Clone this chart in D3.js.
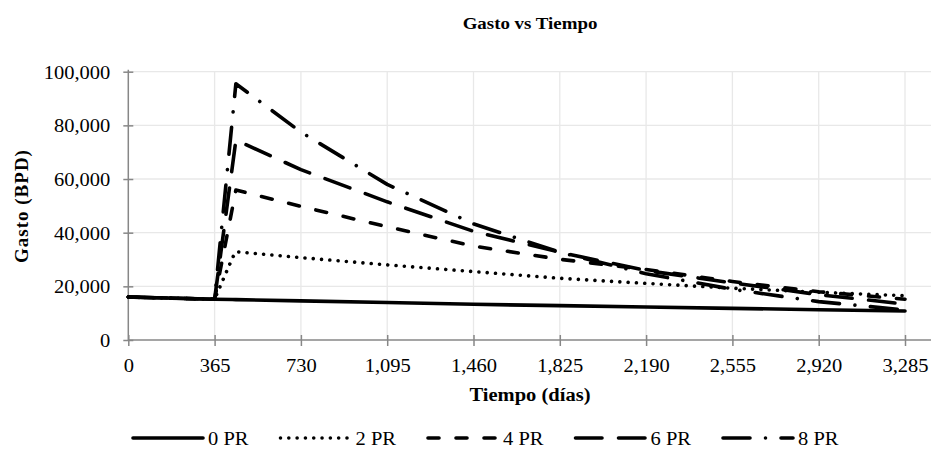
<!DOCTYPE html>
<html>
<head>
<meta charset="utf-8">
<script src="https://cdn.jsdelivr.net/npm/d3@7"></script>
<style>
  html, body { margin: 0; padding: 0; background: #fff; }
  svg { display: block; }
  text { font-family: "Liberation Serif", "Times New Roman", serif; fill: #000; }
</style>
</head>
<body>
<svg id="chart" width="932" height="458"></svg>
<script>
// ---- data ----
const times = [0, 365, 440, 455, 730, 1095, 1460, 1825, 2190, 2555, 2920, 3285];
const pr0 = [16000, 15200, 15100, 15050, 14600, 14000, 13300, 12800, 12300, 11800, 11300, 10800];
const pr2 = [16000, 15200, 30500, 32900, 30700, 28000, 25500, 23000, 21100, 19300, 17800, 16500];
const pr4 = [16000, 15200, 49100, 55900, 49800, 42200, 35000, 30100, 26300, 21800, 18000, 15200];
const pr6 = [16000, 15200, 64600, 74500, 63500, 51500, 40500, 32700, 25900, 21300, 16900, 13400];
const pr8 = [16000, 15200, 82100, 95500, 77500, 58000, 43300, 32700, 24700, 18900, 14300, 11200];
const seriesNames = ["0 PR", "2 PR", "4 PR", "6 PR", "8 PR"];
const xTicks = [0, 365, 730, 1095, 1460, 1825, 2190, 2555, 2920, 3285];
const yTicks = [0, 20000, 40000, 60000, 80000, 100000];
const titleText = "Gasto vs Tiempo";
const xTitle = "Tiempo (días)";
const yTitle = "Gasto (BPD)";

// ---- layout ----
const SX = 1.08; // slight horizontal text stretch seen in the reference
const plotLeft = 128.3, xEnd = 905, plotRight = 931;
const plotTop = 71.7, plotBottom = 340;

const svg = d3.select("#chart");
const x = d3.scaleLinear().domain([0, 3285]).range([plotLeft, xEnd]);
const y = d3.scaleLinear().domain([0, 100000]).range([plotBottom, plotTop]);
const fmt = d3.format(",");

function stretchedText(g, tx, ty, str, opts) {
  return g.append("text")
    .attr("transform", `translate(${tx},${ty}) scale(${opts.sx || 1},1)`)
    .attr("text-anchor", opts.anchor || "middle")
    .attr("font-family", "Liberation Serif, Times New Roman, serif")
    .style("font-size", opts.size + "px")
    .style("font-weight", opts.weight || "normal")
    .text(str);
}

// gridlines
const grid = svg.append("g");
grid.selectAll("line.h").data(yTicks.filter(d => d > 0)).join("line")
  .attr("x1", plotLeft).attr("x2", plotRight)
  .attr("y1", d => y(d)).attr("y2", d => y(d))
  .attr("stroke", "#e8e8e8").attr("stroke-width", 1.3);
grid.selectAll("line.v").data(xTicks.filter(d => d > 0)).join("line")
  .attr("x1", d => x(d)).attr("x2", d => x(d))
  .attr("y1", plotTop).attr("y2", plotBottom)
  .attr("stroke", "#e8e8e8").attr("stroke-width", 1.3);

// axes
const axisColor = "#878787";
const xAxis = svg.append("g").attr("transform", `translate(0,${plotBottom})`)
  .call(d3.axisBottom(x).tickValues(xTicks).tickSize(5).tickFormat(() => ""));
xAxis.select(".domain").remove();
xAxis.selectAll(".tick line").attr("y1", -5).attr("y2", 6).attr("stroke", axisColor).attr("stroke-width", 1.5);
xAxis.append("line").attr("x1", plotLeft).attr("x2", plotRight).attr("y1", 0).attr("y2", 0)
  .attr("stroke", axisColor).attr("stroke-width", 1.5);
xAxis.selectAll(".tick").each(function(d) {
  stretchedText(d3.select(this), 0, 32, fmt(d), { size: 19, sx: SX });
});

const yAxis = svg.append("g").attr("transform", `translate(${plotLeft},0)`)
  .call(d3.axisLeft(y).tickValues(yTicks).tickSize(5).tickFormat(() => ""));
yAxis.select(".domain").remove();
yAxis.selectAll(".tick line").attr("x1", -5).attr("x2", 5).attr("stroke", axisColor).attr("stroke-width", 1.5);
yAxis.append("line").attr("x1", 0).attr("x2", 0).attr("y1", plotTop - 2).attr("y2", plotBottom)
  .attr("stroke", axisColor).attr("stroke-width", 1.5);
yAxis.selectAll(".tick").each(function(d) {
  stretchedText(d3.select(this), -18, 6.5, fmt(d), { size: 19, sx: SX, anchor: "end" });
});

// title + axis titles
stretchedText(svg, 530, 29, titleText, { size: 17.5, sx: SX, weight: "bold" });
stretchedText(svg, 530, 401, xTitle, { size: 19, sx: SX, weight: "bold" });
svg.append("text")
  .attr("transform", `translate(28,206) rotate(-90)`)
  .attr("text-anchor", "middle")
  .attr("font-family", "Liberation Serif, Times New Roman, serif")
  .style("font-size", "19px").style("font-weight", "bold")
  .style("letter-spacing", "1px")
  .text(yTitle);

// series
const values = [pr0, pr2, pr4, pr6, pr8];
const styles = [
  { dash: null, cap: "round" },
  { dash: "0.01,8.3", cap: "round" },
  { dash: "11,17", cap: "round" },
  { dash: "26.5,16.5", cap: "round" },
  { dash: "27,15.5,0.01,15.5", cap: "round" }
];
const line = d3.line().x(d => x(d[0])).y(d => y(d[1]));
const lines = svg.append("g");
values.forEach((vals, i) => {
  const pts = times.map((t, k) => [t, vals[k]]);
  lines.append("path").datum(pts)
    .attr("d", line)
    .attr("fill", "none")
    .attr("stroke", "#000")
    .attr("stroke-width", 3.6)
    .attr("stroke-linejoin", "round")
    .attr("stroke-linecap", styles[i].cap)
    .attr("stroke-dasharray", styles[i].dash);
});

// legend
const legendStart = 133, legendStep = 147.5, legendY = 438, legendLen = 70;
const leg = svg.append("g");
seriesNames.forEach((name, i) => {
  const gx = legendStart + i * legendStep;
  leg.append("line")
    .attr("x1", gx).attr("x2", gx + legendLen)
    .attr("y1", legendY).attr("y2", legendY)
    .attr("stroke", "#000").attr("stroke-width", 3.6)
    .attr("stroke-linecap", styles[i].cap)
    .attr("stroke-dasharray", styles[i].dash);
  stretchedText(leg, gx + legendLen + 5, legendY + 6.5, name, { size: 19, sx: SX, anchor: "start" });
});
</script>
</body>
</html>
